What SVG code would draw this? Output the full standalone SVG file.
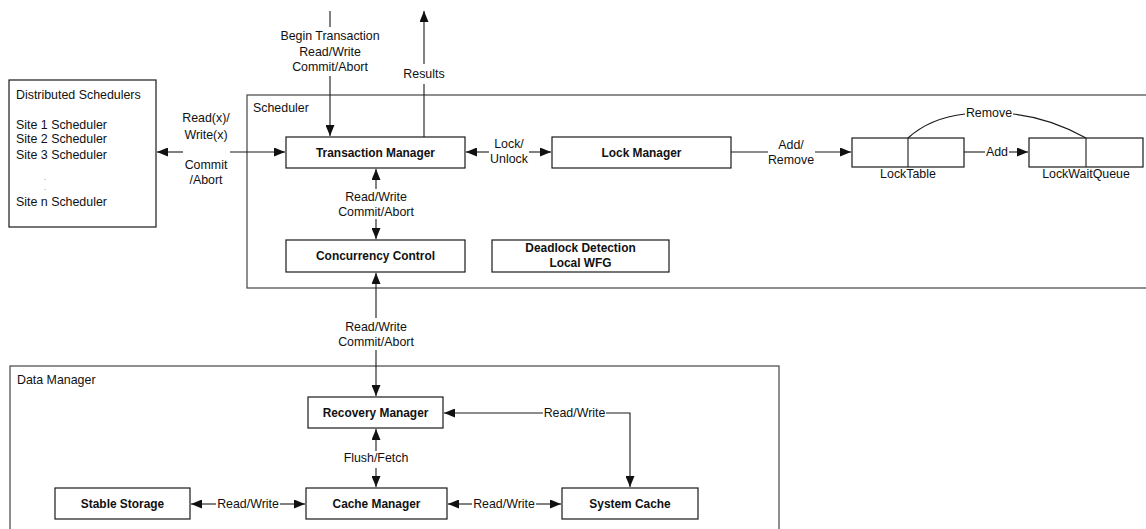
<svg xmlns="http://www.w3.org/2000/svg" width="1146" height="529" viewBox="0 0 1146 529">
  <style>
    .box { fill: #fff; stroke: #1a1a1a; stroke-width: 1.2; }
    .frame { fill: none; stroke: #444; stroke-width: 1.2; }
    .ln { fill: none; stroke: #1a1a1a; stroke-width: 1.1; }
    .arr { marker-end: url(#ah); }
    .t { font-family: "Liberation Sans", Arial, sans-serif; font-size: 12.4px; fill: #111; }
    .c { text-anchor: middle; }
    .dot { font-family: "Liberation Sans", Arial, sans-serif; font-size: 7px; fill: #555; }
    .b { font-family: "Liberation Sans", Arial, sans-serif; font-size: 11.9px; font-weight: bold; fill: #111; text-anchor: middle; }
  </style>
  <defs>
    <marker id="ah" markerWidth="11" markerHeight="9" refX="11" refY="4.5" orient="auto" markerUnits="userSpaceOnUse">
      <path d="M0,0 L11,4.5 L0,9 z" fill="#111"/>
    </marker>
  </defs>
  <rect width="1146" height="529" fill="#fff"/>

  <!-- containers -->
  <g id="scheduler">
    <rect class="frame" x="247" y="95" width="920" height="193"/>
    <text class="t" x="253" y="112">Scheduler</text>
  </g>
  <g id="data-manager">
    <rect class="frame" x="10" y="366" width="769" height="180"/>
    <text class="t" x="17" y="384">Data Manager</text>
  </g>

  <!-- nodes -->
  <g id="distributed-schedulers">
    <rect class="box" x="9" y="80" width="147" height="147"/>
    <text class="t" x="16" y="99">Distributed Schedulers</text>
    <text class="t" x="16" y="129">Site 1 Scheduler</text>
    <text class="t" x="16" y="143">Site 2 Scheduler</text>
    <text class="t" x="16" y="159">Site 3 Scheduler</text>
    <text class="dot" x="44" y="180">.</text>
    <text class="dot" x="44" y="190">.</text>
    <text class="t" x="16" y="206">Site n Scheduler</text>
  </g>
  <g id="transaction-manager">
    <rect class="box" x="286" y="137" width="179" height="31"/>
    <text class="b" x="375.5" y="157">Transaction Manager</text>
  </g>
  <g id="lock-manager">
    <rect class="box" x="552" y="137" width="179" height="31"/>
    <text class="b" x="641.5" y="157">Lock Manager</text>
  </g>
  <g id="concurrency-control">
    <rect class="box" x="286" y="240" width="179" height="32"/>
    <text class="b" x="375.5" y="260">Concurrency Control</text>
  </g>
  <g id="deadlock-detection">
    <rect class="box" x="492" y="240" width="177" height="32"/>
    <text class="b" x="580.5" y="252">Deadlock Detection</text>
    <text class="b" x="580.5" y="267">Local WFG</text>
  </g>
  <g id="lock-table">
    <rect class="box" x="852" y="138" width="112" height="29"/>
    <line class="ln" x1="908" y1="138" x2="908" y2="167"/>
    <text class="t c" x="908" y="178">LockTable</text>
  </g>
  <g id="lock-wait-queue">
    <rect class="box" x="1029" y="138" width="114" height="29"/>
    <line class="ln" x1="1086" y1="138" x2="1086" y2="167"/>
    <text class="t c" x="1086" y="178">LockWaitQueue</text>
  </g>
  <g id="recovery-manager">
    <rect class="box" x="308" y="397" width="135" height="31"/>
    <text class="b" x="375.5" y="417">Recovery Manager</text>
  </g>
  <g id="stable-storage">
    <rect class="box" x="55" y="488" width="135" height="31"/>
    <text class="b" x="122.5" y="508">Stable Storage</text>
  </g>
  <g id="cache-manager">
    <rect class="box" x="306" y="488" width="141" height="31"/>
    <text class="b" x="376.5" y="508">Cache Manager</text>
  </g>
  <g id="system-cache">
    <rect class="box" x="562" y="488" width="136" height="31"/>
    <text class="b" x="630" y="508">System Cache</text>
  </g>

  <!-- connectors -->
  <g id="connectors">
    <!-- Distributed Schedulers <-> Transaction Manager -->
    <line class="ln arr" x1="183" y1="152" x2="157" y2="152"/>
    <line class="ln arr" x1="230" y1="152" x2="285" y2="152"/>
    <text class="t c" x="206" y="122">Read(x)/</text>
    <text class="t c" x="206" y="139">Write(x)</text>
    <text class="t c" x="206" y="169">Commit</text>
    <text class="t c" x="206" y="184">/Abort</text>

    <!-- client requests into Transaction Manager -->
    <line class="ln" x1="330" y1="11" x2="330" y2="27"/>
    <line class="ln arr" x1="330" y1="76" x2="330" y2="136"/>
    <text class="t c" x="330" y="40">Begin Transaction</text>
    <text class="t c" x="330" y="56">Read/Write</text>
    <text class="t c" x="330" y="71">Commit/Abort</text>

    <!-- results out of Transaction Manager -->
    <line class="ln" x1="424" y1="137" x2="424" y2="84"/>
    <line class="ln arr" x1="424" y1="64" x2="424" y2="11"/>
    <text class="t c" x="424" y="78">Results</text>

    <!-- Transaction Manager <-> Lock Manager -->
    <line class="ln arr" x1="489" y1="152" x2="466" y2="152"/>
    <line class="ln arr" x1="529" y1="152" x2="551" y2="152"/>
    <text class="t c" x="509" y="148">Lock/</text>
    <text class="t c" x="509" y="163">Unlock</text>

    <!-- Transaction Manager <-> Concurrency Control -->
    <line class="ln arr" x1="376" y1="189" x2="376" y2="169"/>
    <line class="ln arr" x1="376" y1="219" x2="376" y2="239"/>
    <text class="t c" x="376" y="201">Read/Write</text>
    <text class="t c" x="376" y="216">Commit/Abort</text>

    <!-- Concurrency Control <-> Recovery Manager -->
    <line class="ln arr" x1="376" y1="318" x2="376" y2="273"/>
    <line class="ln arr" x1="376" y1="350" x2="376" y2="396"/>
    <text class="t c" x="376" y="331">Read/Write</text>
    <text class="t c" x="376" y="346">Commit/Abort</text>

    <!-- Lock Manager -> LockTable -->
    <line class="ln" x1="731" y1="152" x2="768" y2="152"/>
    <line class="ln arr" x1="815" y1="152" x2="851" y2="152"/>
    <text class="t c" x="791" y="149">Add/</text>
    <text class="t c" x="791" y="164">Remove</text>

    <!-- LockTable -> LockWaitQueue -->
    <line class="ln" x1="964" y1="152" x2="985" y2="152"/>
    <line class="ln arr" x1="1009" y1="152" x2="1028" y2="152"/>
    <text class="t c" x="997" y="156">Add</text>

    <!-- LockWaitQueue back to LockTable -->
    <path class="ln" d="M908,138 Q930,118 965,114"/>
    <path class="ln" d="M1013,114 Q1050,118 1086,138"/>
    <text class="t c" x="989" y="117">Remove</text>

    <!-- Recovery Manager <-> Cache Manager -->
    <line class="ln arr" x1="376" y1="451" x2="376" y2="429"/>
    <line class="ln arr" x1="376" y1="468" x2="376" y2="487"/>
    <text class="t c" x="376" y="462">Flush/Fetch</text>

    <!-- Stable Storage <-> Cache Manager -->
    <line class="ln arr" x1="216" y1="504" x2="191" y2="504"/>
    <line class="ln arr" x1="280" y1="504" x2="305" y2="504"/>
    <text class="t c" x="248" y="508">Read/Write</text>

    <!-- Cache Manager <-> System Cache -->
    <line class="ln arr" x1="472" y1="504" x2="448" y2="504"/>
    <line class="ln arr" x1="536" y1="504" x2="561" y2="504"/>
    <text class="t c" x="504" y="508">Read/Write</text>

    <!-- Recovery Manager <-> System Cache -->
    <line class="ln arr" x1="543" y1="413" x2="444" y2="413"/>
    <polyline class="ln arr" points="606,413 630,413 630,487"/>
    <text class="t c" x="574.5" y="417">Read/Write</text>
  </g>
</svg>
